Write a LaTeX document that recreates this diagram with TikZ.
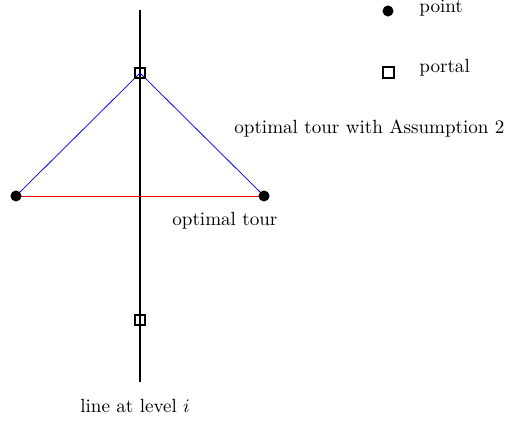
\documentclass[tikz,border=0pt]{standalone}
\begin{document}
\begin{tikzpicture}[x=0.524pt,y=-0.524pt,
  pt/.style={circle,fill=black,inner sep=0pt,minimum size=5.8pt},
  portalbox/.style={rectangle,draw=black,line width=1.05pt,inner sep=0pt,minimum size=5.3pt},
  lbl/.style={anchor=base west,inner sep=0pt}]
\useasboundingbox (0,0) rectangle (506,423);
\coordinate (ltop) at (140,10);
\coordinate (lbot) at (140,382);
\draw[line width=1pt] (ltop) -- (lbot);
\coordinate (pc) at (140,73);
\coordinate (ac) at (16,196);
\coordinate (bc) at (264,196);
\draw[blue,line width=0.4pt] (ac) -- (pc) -- (bc);
\draw[red,line width=0.4pt] (ac) -- (bc);
\node[pt] (a) at (ac) {};
\node[pt] (b) at (bc) {};
\node[portalbox] (p1) at (pc) {};
\node[portalbox] (p2) at (140,320) {};
\node[pt] (lp) at (388,11) {};
\node[portalbox] (lq) at (388.5,72.5) {};
\node[lbl] (tp) at (419,13) {point};
\node[lbl] (tq) at (419,73) {portal};
\node[lbl] (t1) at (234,134) {optimal tour with Assumption 2};
\node[lbl] (t2) at (172,226) {optimal tour};
\node[lbl] (t3) at (80,412) {line at level $i$};
\end{tikzpicture}
\end{document}
